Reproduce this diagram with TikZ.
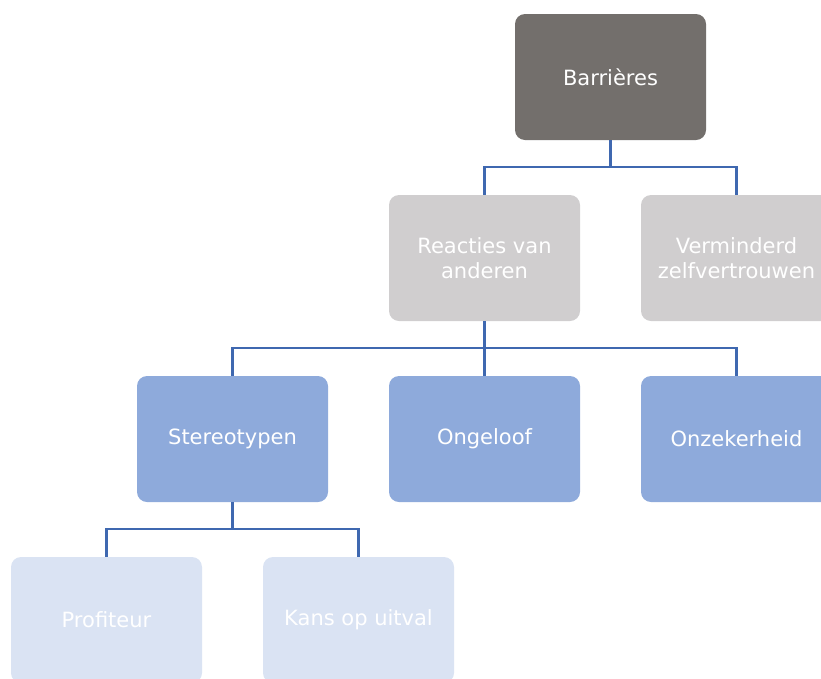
\documentclass[tikz,border=0pt]{standalone}
\usepackage{fontspec}
\setmainfont{DejaVu Sans}
\definecolor{cdark}{HTML}{736F6C}
\definecolor{cgray}{HTML}{D0CECF}
\definecolor{cblue}{HTML}{8EAADB}
\definecolor{clight}{HTML}{DAE3F3}
\definecolor{cline}{HTML}{3F68B0}
\begin{document}
\begin{tikzpicture}[x=1pt,y=-1pt,
  box/.style={rounded corners=10pt, minimum width=191pt, minimum height=126pt,
    inner sep=0pt, text=white, align=center,
    font=\fontsize{21}{25}\selectfont},
  lvl0/.style={box, fill=cdark},
  lvl1/.style={box, fill=cgray},
  lvl2/.style={box, fill=cblue},
  lvl3/.style={box, fill=clight},
  conn/.style={draw=cline, line width=2.5pt}]
\useasboundingbox (0,0) rectangle (821,678);
\clip (0,0) rectangle (821,678);
\node[lvl0] (bar) at (610.5,77) {Barrières};
\node[lvl1] (rea) at (484.5,258) {Reacties van\\anderen};
\node[lvl1] (ver) at (736.5,258) {Verminderd\\zelfvertrouwen};
\node[lvl2] (ste) at (232.5,439) {Stereotypen};
\node[lvl2] (ong) at (484.5,439) {Ongeloof};
\node[lvl2] (onz) at (736.5,439) {Onzekerheid};
\node[lvl3] (pro) at (106.5,620) {Profiteur};
\node[lvl3] (kan) at (358.5,620) {Kans op uitval};
\draw[conn] (bar.south) -- ++(0,27) -| (rea.north);
\draw[conn] (bar.south) -- ++(0,27) -| (ver.north);
\draw[conn] (rea.south) -- ++(0,27) -| (ste.north);
\draw[conn] (rea.south) -- (ong.north);
\draw[conn] (rea.south) -- ++(0,27) -| (onz.north);
\draw[conn] (ste.south) -- ++(0,27) -| (pro.north);
\draw[conn] (ste.south) -- ++(0,27) -| (kan.north);
\end{tikzpicture}
\end{document}
